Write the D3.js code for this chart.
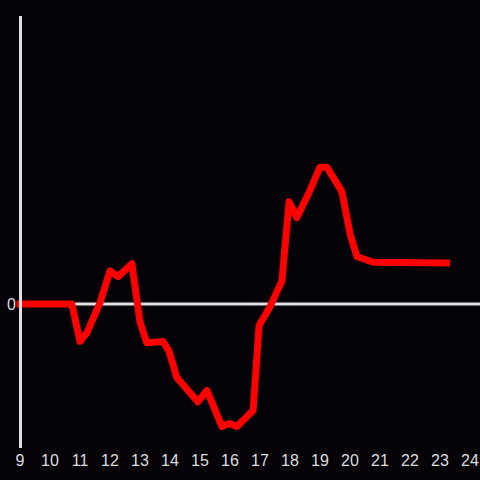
<!DOCTYPE html>
<html><head><meta charset="utf-8">
<script src="https://cdn.jsdelivr.net/npm/d3@7"></script>
<style>html,body{margin:0;padding:0;background:#050308;}svg{display:block;}</style>
</head><body>
<script>
const hours = [9, 10.73, 11.0, 11.23, 11.67, 12.0, 12.27, 12.73, 13.0, 13.23, 13.77, 13.97, 14.23, 14.93, 15.23, 15.73, 15.97, 16.23, 16.77, 16.97, 17.33, 17.73, 17.97, 18.23, 18.67, 19.0, 19.23, 19.73, 20.0, 20.23, 20.77, 23.22];
const values = [0, 0, -26, -20, 1, 23, 19, 28, -12.5, -27, -26, -33, -51, -68, -60, -85, -83, -85, -74, -15, -2, 16, 71, 60, 79, 95, 95, 78, 49, 33, 29, 28.5];
const xTicks = [9,10,11,12,13,14,15,16,17,18,19,20,21,22,23,24];
const yTicks = [0];

const W = 480, H = 480;
const svg = d3.select("body").append("svg").attr("width", W).attr("height", H);
svg.append("rect").attr("width", W).attr("height", H).attr("fill", "#050308");

const x = d3.scaleLinear().domain([9, 24]).range([20, 470]);
const y = d3.scaleLinear().domain([-100, 200]).range([448, 16]);

// zero line
svg.append("line").attr("x1", 20).attr("x2", 480).attr("y1", y(0)).attr("y2", y(0))
  .attr("stroke", "#e0e0e0").attr("stroke-width", 3);

// x tick labels
svg.append("g").selectAll("text").data(xTicks).join("text")
  .attr("x", d => x(d)).attr("y", 466)
  .attr("text-anchor", "middle")
  .attr("fill", "#dddddd")
  .attr("font-family", "Liberation Sans, Arial, sans-serif")
  .attr("font-size", 16)
  .text(d => d);

// y tick labels
svg.append("g").selectAll("text").data(yTicks).join("text")
  .attr("x", 16).attr("y", d => y(d))
  .attr("dy", "0.35em")
  .attr("text-anchor", "end")
  .attr("fill", "#dddddd")
  .attr("font-family", "Liberation Sans, Arial, sans-serif")
  .attr("font-size", 16)
  .text(d => d);

const data = hours.map((h, i) => [h, values[i]]);
const line = d3.line().x(d => x(d[0])).y(d => y(d[1]));
svg.append("path").attr("d", line(data))
  .attr("fill", "none").attr("stroke", "#ff0000").attr("stroke-width", 7)
  .attr("stroke-linejoin", "round").attr("stroke-linecap", "square");

// vertical axis line (drawn over the series)
svg.append("line").attr("x1", 20.5).attr("x2", 20.5).attr("y1", y(200)).attr("y2", y(-100))
  .attr("stroke", "#e0e0e0").attr("stroke-width", 3);
</script>
</body></html>
